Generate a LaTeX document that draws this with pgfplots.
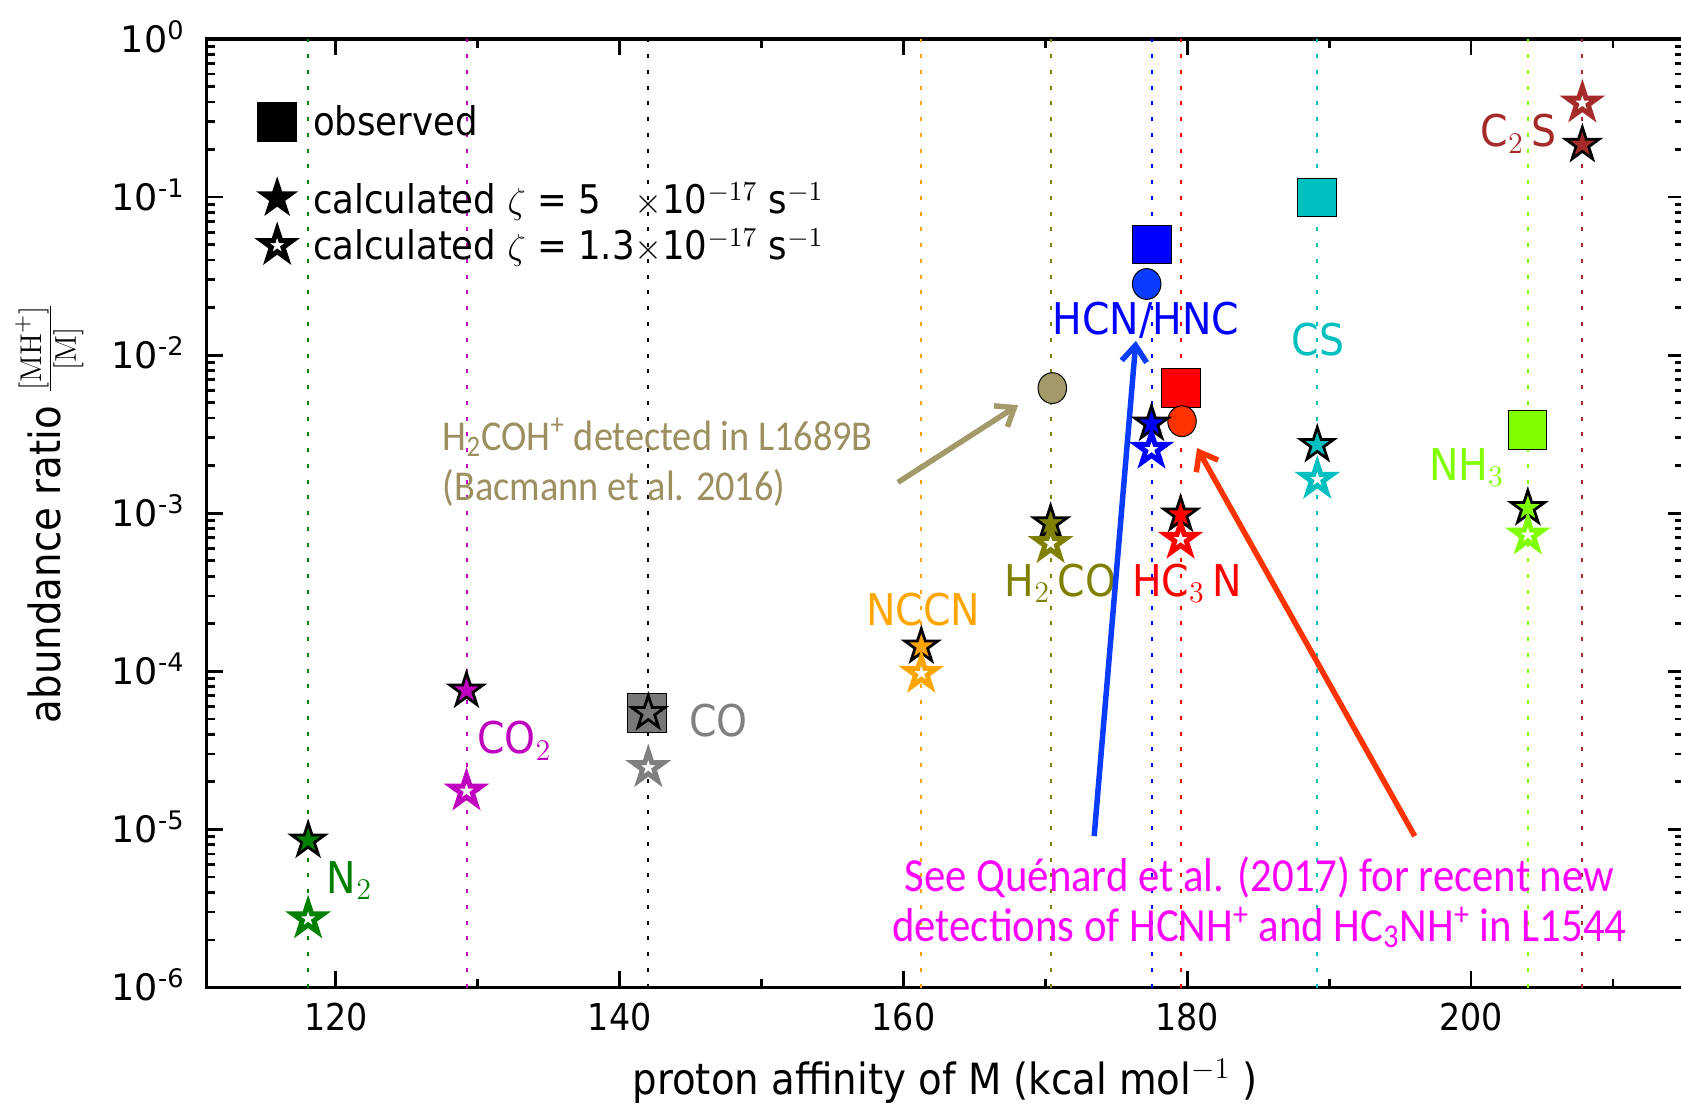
\documentclass[border=0pt]{standalone}
\usepackage[no-math]{fontspec}
\setmainfont[FakeStretch=0.9]{DejaVu Sans}
\newfontfamily\ytickfont{DejaVu Sans}
\newfontfamily\carlito[FakeStretch=0.9]{Carlito}
\usepackage{pgfplots}
\pgfplotsset{compat=1.18}
\usetikzlibrary{arrows.meta}

\definecolor{cN}{RGB}{0,128,0}
\definecolor{cCOtwo}{RGB}{191,0,191}
\definecolor{cCO}{RGB}{128,128,128}
\definecolor{cCOsq}{RGB}{120,120,120}
\definecolor{cNCCN}{RGB}{255,165,0}
\definecolor{cHtwoCO}{RGB}{128,128,0}
\definecolor{cHCN}{RGB}{0,0,255}
\definecolor{cHCthreeN}{RGB}{255,0,0}
\definecolor{cCS}{RGB}{0,191,191}
\definecolor{cNH}{RGB}{127,255,0}
\definecolor{cCtwoS}{RGB}{165,42,42}
\definecolor{tanc}{RGB}{163,154,106}
\definecolor{tant}{RGB}{156,143,96}
\definecolor{hcncirc}{RGB}{10,60,255}
\definecolor{redarr}{RGB}{255,51,0}
\definecolor{mag}{RGB}{255,0,255}

\pgfdeclareplotmark{mystar}{%
  \pgfpathmoveto{\pgfpointpolar{90}{\pgfplotmarksize}}%
  \pgfpathlineto{\pgfpointpolar{126}{0.382*\pgfplotmarksize}}%
  \pgfpathlineto{\pgfpointpolar{162}{\pgfplotmarksize}}%
  \pgfpathlineto{\pgfpointpolar{198}{0.382*\pgfplotmarksize}}%
  \pgfpathlineto{\pgfpointpolar{234}{\pgfplotmarksize}}%
  \pgfpathlineto{\pgfpointpolar{270}{0.382*\pgfplotmarksize}}%
  \pgfpathlineto{\pgfpointpolar{306}{\pgfplotmarksize}}%
  \pgfpathlineto{\pgfpointpolar{342}{0.382*\pgfplotmarksize}}%
  \pgfpathlineto{\pgfpointpolar{18}{\pgfplotmarksize}}%
  \pgfpathlineto{\pgfpointpolar{54}{0.382*\pgfplotmarksize}}%
  \pgfpathclose
  \pgfusepathqfillstroke
}

\pgfplotsset{
  fstar/.style={only marks, mark=mystar, mark size=7pt, mark options={fill=#1, draw=black, line width=1.1pt}},
  ostar/.style={only marks, mark=mystar, mark size=6.4pt, mark options={fill=white, draw=#1, line width=2pt}},
  obs/.style={only marks, mark=square*, mark size=7.7pt, mark options={fill=#1, draw=none}},
  circ/.style={only marks, mark=*, mark size=5.7pt, mark options={fill=#1, draw=none, yscale=1.08}},
  vl/.style={color=#1, mark=none, line width=0.8pt, dash pattern=on 1.6pt off 4.7pt},
}
\newcommand\lab{\fontsize{17.5}{20}\selectfont}
\newcommand\leg{\fontsize{15.8}{18}\selectfont}
\tikzset{lw/.style={anchor=base west, inner xsep=0pt}}

\begin{document}
\begin{tikzpicture}
\begin{axis}[
  scale only axis, width=590.9pt, height=379.4pt,
  xmin=110.9, xmax=215, ymode=log, ymin=1e-6, ymax=1,
  xtick={120,140,160,180,200}, xticklabels={120,140,160,180,200},
  minor xtick={130,150,170,190,210},
  ytick={1e-6,1e-5,1e-4,1e-3,1e-2,1e-1,1},
  yticklabels={10\textsuperscript{-6},10\textsuperscript{-5},10\textsuperscript{-4},10\textsuperscript{-3},10\textsuperscript{-2},10\textsuperscript{-1},10\textsuperscript{0}},
  axis line style={line width=1.4pt},
  every tick/.style={black, line width=1.1pt},
  major tick length=6.5pt, minor tick length=3.5pt,
  xticklabel style={font=\fontsize{14.8}{17}\selectfont, yshift=-2.5pt},
  yticklabel style={font=\ytickfont\fontsize{14.6}{17}\selectfont, anchor=base east, yshift=-5.3pt, xshift=-5.2pt},
  xlabel={proton affinity of M (kcal mol$^{-1}$ )},
  ylabel={abundance ratio $\frac{[\mathrm{MH}^+]}{[\mathrm{M}]}$},
  label style={font=\fontsize{17.2}{20}\selectfont},
  xlabel style={at={(axis description cs:0.5,-0.1123)}, anchor=base},
  ylabel style={at={(axis description cs:-0.0986,0.5)}, anchor=base},
  clip=false,
]
% vertical dotted lines
\addplot[vl=cN] coordinates {(118.05,1e-6) (118.05,1)};
\addplot[vl=cCOtwo] coordinates {(129.21,1e-6) (129.21,1)};
\addplot[vl=black] coordinates {(142.02,1e-6) (142.02,1)};
\addplot[vl=cNCCN] coordinates {(161.26,1e-6) (161.26,1)};
\addplot[vl=cHtwoCO] coordinates {(170.37,1e-6) (170.37,1)};
\addplot[vl=cHCN] coordinates {(177.48,1e-6) (177.48,1)};
\addplot[vl=cHCthreeN] coordinates {(179.53,1e-6) (179.53,1)};
\addplot[vl=cCS] coordinates {(189.16,1e-6) (189.16,1)};
\addplot[vl=cNH] coordinates {(204.0,1e-6) (204.0,1)};
\addplot[vl=cCtwoS] coordinates {(207.84,1e-6) (207.84,1)};

% observed
\addplot[obs=cCOsq] coordinates {(141.93,5.46e-5)};
\addplot[obs=cHCN] coordinates {(177.52,0.0502)};
\addplot[obs=cHCthreeN] coordinates {(179.56,6.19e-3)};
\addplot[obs=cCS] coordinates {(189.15,0.0997)};
\addplot[obs=cNH] coordinates {(203.96,3.37e-3)};

% detections (circles)
\addplot[circ=hcncirc] coordinates {(177.14,0.0282)};
\addplot[circ=redarr] coordinates {(179.63,3.82e-3)};
\addplot[circ=tanc] coordinates {(170.49,6.19e-3)};

% calculated zeta = 5e-17
\addplot[fstar=cN] coordinates {(118.05,8.52e-6)};
\addplot[fstar=cCOtwo] coordinates {(129.21,7.58e-5)};
\addplot[fstar=cCOsq] coordinates {(142.02,5.46e-5)};
\addplot[fstar=cNCCN] coordinates {(161.26,1.44e-4)};
\addplot[fstar=cHtwoCO] coordinates {(170.37,8.65e-4)};
\addplot[fstar=cHCN] coordinates {(177.48,3.70e-3)};
\addplot[fstar=cHCthreeN] coordinates {(179.53,9.82e-4)};
\addplot[fstar=cCS] coordinates {(189.16,2.71e-3)};
\addplot[fstar=cNH] coordinates {(204.0,1.08e-3)};
\addplot[fstar=cCtwoS] coordinates {(207.84,0.2145)};

% calculated zeta = 1.3e-17
\addplot[ostar=cN] coordinates {(118.05,2.72e-6)};
\addplot[ostar=cCOtwo] coordinates {(129.21,1.75e-5)};
\addplot[ostar=cCO] coordinates {(142.02,2.46e-5)};
\addplot[ostar=cNCCN] coordinates {(161.26,9.72e-5)};
\addplot[ostar=cHtwoCO] coordinates {(170.37,6.43e-4)};
\addplot[ostar=cHCN] coordinates {(177.48,2.54e-3)};
\addplot[ostar=cHCthreeN] coordinates {(179.53,6.85e-4)};
\addplot[ostar=cCS] coordinates {(189.16,1.64e-3)};
\addplot[ostar=cNH] coordinates {(204.0,7.29e-4)};
\addplot[ostar=cCtwoS] coordinates {(207.84,0.394)};

% legend
\addplot[obs=black] coordinates {(115.87,0.2977)};
\addplot[fstar=black] coordinates {(115.87,0.0983)};
\addplot[ostar=black] coordinates {(115.87,0.0494)};
\node[lw, font=\leg] at (axis cs:118.36,0.2466) {observed};
\node[lw, font=\leg] at (axis cs:118.36,0.0790) {calculated $\zeta$ = 5};
\node[lw, font=\leg] at (axis cs:118.36,0.0404) {calculated $\zeta$ = 1.3};
\node[lw, font=\leg] at (axis cs:141.0,0.0790) {$\times$10$^{-17}$ s$^{-1}$};
\node[lw, font=\leg] at (axis cs:141.0,0.0404) {$\times$10$^{-17}$ s$^{-1}$};

% molecule labels
\node[lw, font=\lab, text=cN] at (axis cs:119.34,3.96e-6) {N$_2$};
\node[lw, font=\lab, text=cCOtwo] at (axis cs:129.92,3.02e-5) {CO$_2$};
\node[lw, font=\lab, text=cCO] at (axis cs:144.88,3.87e-5) {CO};
\node[lw, font=\lab, text=cNCCN] at (axis cs:157.35,1.94e-4) {NCCN};
\node[lw, font=\lab, text=cHtwoCO] at (axis cs:167.10,2.99e-4) {H$_2$\,CO};
\node[lw, font=\lab, text=cHCthreeN] at (axis cs:176.08,2.99e-4) {HC$_3$\,N};
\node[lw, font=\lab, text=cHCN] at (axis cs:170.49,0.01352) {HCN/HNC};
\node[lw, font=\lab, text=cCS] at (axis cs:187.33,9.9e-3) {CS};
\node[lw, font=\lab, text=cNH] at (axis cs:197.01,1.62e-3) {NH$_3$};
\node[lw, font=\lab, text=cCtwoS] at (axis cs:200.64,0.2077) {C$_2$\,S};

% annotations
\node[lw, text=tant, font=\carlito\fontsize{17}{20}\selectfont] at (axis cs:127.51,2.503e-3) {H\textsubscript{2}COH\textsuperscript{+} detected in L1689B};
\node[lw, text=tant, font=\carlito\fontsize{17}{20}\selectfont] at (axis cs:127.51,1.202e-3) {(Bacmann et al. 2016)};
\draw[tanc, line width=2.2pt, -{Straight Barb[length=6.5pt,width=10pt]}] (axis cs:159.61,1.568e-3) -- (axis cs:168.08,4.83e-3);
\draw[hcncirc, line width=2.2pt, -{Straight Barb[length=6.5pt,width=10pt]}] (axis cs:173.44,9.07e-6) -- (axis cs:176.38,0.01232);
\draw[redarr, line width=2.2pt, -{Straight Barb[length=6.5pt,width=10pt]}] (axis cs:196.03,9.07e-6) -- (axis cs:180.69,2.585e-3);
\node[anchor=base, text=mag, font=\carlito\fontsize{19}{22}\selectfont] at (axis cs:185.08,4.03e-6) {See Quénard et al. (2017) for recent new};
\node[anchor=base, text=mag, font=\carlito\fontsize{19}{22}\selectfont] at (axis cs:185.08,1.963e-6) {detections of HCNH\textsuperscript{+} and HC\textsubscript{3}NH\textsuperscript{+} in L1544};

\coordinate (bbsw) at (rel axis cs:-0.1399,-0.1239);
\coordinate (bbne) at (rel axis cs:0.998,1.0411);
\end{axis}
\pgfresetboundingbox
\useasboundingbox (bbsw) rectangle (bbne);
\end{tikzpicture}
\end{document}
